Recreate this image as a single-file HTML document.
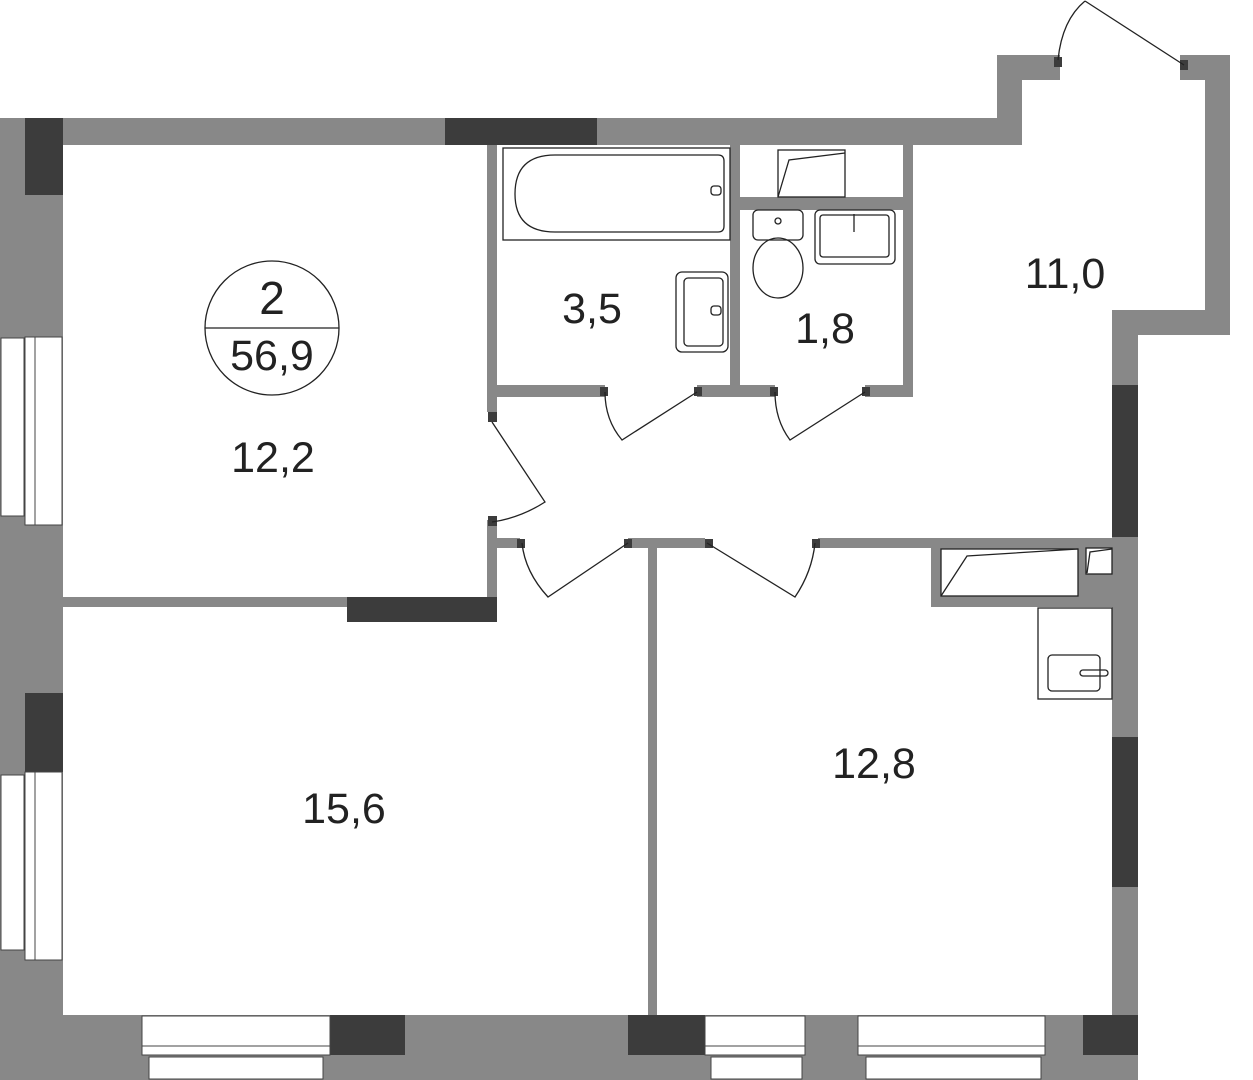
<!DOCTYPE html>
<html><head><style>
html,body{margin:0;padding:0;background:#fff;}
svg{display:block;font-family:"Liberation Sans",Arial,sans-serif;}
</style></head><body>
<svg width="1253" height="1080" viewBox="0 0 1253 1080" xmlns="http://www.w3.org/2000/svg">
<g fill="#888">
<rect x="0" y="118" width="63" height="962"/>
<rect x="63" y="118" width="959" height="27"/>
<rect x="997" y="55" width="25" height="90"/>
<rect x="997" y="55" width="63" height="25"/>
<rect x="1180" y="55" width="50" height="25"/>
<rect x="1205" y="55" width="25" height="280"/>
<rect x="1112" y="310" width="118" height="25"/>
<rect x="1112" y="310" width="26" height="770"/>
<rect x="0" y="1015" width="1138" height="65"/>
<rect x="487" y="145" width="10" height="267"/>
<rect x="487" y="520" width="10" height="100"/>
<rect x="487" y="385" width="118" height="12"/>
<rect x="697" y="385" width="78" height="12"/>
<rect x="865" y="385" width="48" height="12"/>
<rect x="730" y="145" width="10" height="245"/>
<rect x="903" y="145" width="10" height="245"/>
<rect x="740" y="197" width="165" height="13"/>
<rect x="63" y="597" width="434" height="10"/>
<rect x="487" y="538" width="33" height="10"/>
<rect x="628" y="538" width="77" height="10"/>
<rect x="818" y="538" width="294" height="10"/>
<rect x="648" y="548" width="9" height="467"/>
<rect x="931" y="538" width="181" height="69"/>
</g>
<g fill="#3c3c3c">
<rect x="25" y="118" width="38" height="77"/>
<rect x="445" y="118" width="152" height="27"/>
<rect x="347" y="597" width="150" height="25"/>
<rect x="25" y="693" width="38" height="79"/>
<rect x="1112" y="385" width="26" height="152"/>
<rect x="1112" y="737" width="26" height="150"/>
<rect x="330" y="1015" width="75" height="40"/>
<rect x="628" y="1015" width="77" height="40"/>
<rect x="1083" y="1015" width="55" height="40"/>
<rect x="1054" y="57" width="8" height="10"/>
<rect x="1180" y="60" width="8" height="10"/>
<rect x="488" y="412" width="9" height="10"/>
<rect x="488" y="516" width="9" height="10"/>
<rect x="600" y="387" width="8" height="9"/>
<rect x="694" y="387" width="8" height="9"/>
<rect x="770" y="387" width="8" height="9"/>
<rect x="862" y="387" width="8" height="9"/>
<rect x="517" y="539" width="8" height="9"/>
<rect x="624" y="539" width="8" height="9"/>
<rect x="705" y="539" width="8" height="9"/>
<rect x="812" y="539" width="8" height="9"/>
</g>
<g fill="#fff" stroke="#444" stroke-width="1">
<rect x="1" y="338" width="23" height="178"/>
<rect x="25" y="337" width="10" height="188"/>
<rect x="35" y="337" width="27" height="188"/>
<rect x="1" y="775" width="23" height="175"/>
<rect x="25" y="772" width="10" height="188"/>
<rect x="35" y="772" width="27" height="188"/>
<rect x="142" y="1016" width="188" height="30"/>
<rect x="142" y="1046" width="188" height="9"/>
<rect x="149" y="1057" width="174" height="22"/>
<rect x="705" y="1016" width="100" height="30"/>
<rect x="705" y="1046" width="100" height="9"/>
<rect x="711" y="1057" width="91" height="22"/>
<rect x="858" y="1016" width="187" height="30"/>
<rect x="858" y="1046" width="187" height="9"/>
<rect x="866" y="1057" width="175" height="22"/>
</g>
<g fill="none" stroke="#222" stroke-width="1.3">
<path d="M1184 65 L1085 1 M1058 60 Q1062 20 1085 1"/>
<path d="M492 422 L545 502 Q520 518 492 522"/>
<path d="M697 392 L622 440 Q605 420 605 392"/>
<path d="M865 392 L790 440 Q775 420 775 392"/>
<path d="M628 543 L548 597 Q525 572 522 543"/>
<path d="M707 543 L795 597 Q812 572 815 543"/>
<rect x="503" y="148" width="227" height="92"/>
<path d="M555 155 H718 Q724 155 724 161 V226 Q724 232 718 232 H555 Q515 232 515 194 Q515 155 555 155 Z"/>
<rect x="711" y="186" width="10" height="9" rx="3"/>
<rect x="676" y="272" width="52" height="80" rx="6"/>
<rect x="684" y="278" width="39" height="68" rx="4"/>
<rect x="711" y="306" width="10" height="9" rx="3"/>
<rect x="778" y="150" width="67" height="47"/>
<path d="M778 197 L789 160 L845 153"/>
<rect x="753" y="210" width="50" height="30" rx="5"/>
<ellipse cx="778" cy="268" rx="25" ry="30"/>
<circle cx="778" cy="221" r="3"/>
<rect x="815" y="210" width="80" height="54" rx="5"/>
<rect x="820" y="215" width="69" height="42" rx="3"/>
<path d="M854 214 L854 232"/>
<rect x="941" y="549" width="137" height="47" fill="#fff"/>
<path d="M941 596 L967 556 L1078 549"/>
<rect x="1086" y="548" width="26" height="26" fill="#fff"/>
<path d="M1087 573 L1090 552 L1112 549"/>
<rect x="1038" y="608" width="74" height="91" fill="#fff"/>
<rect x="1048" y="655" width="52" height="36" rx="4"/>
<rect x="1080" y="670" width="28" height="6" rx="3"/>
<circle cx="272" cy="328" r="67"/>
<path d="M205 328 H339"/>
</g>
<g fill="#222" font-size="43" text-anchor="middle">
<text x="272" y="314" font-size="46">2</text>
<text x="272" y="370">56,9</text>
<text x="273" y="472">12,2</text>
<text x="592" y="323">3,5</text>
<text x="825" y="343">1,8</text>
<text x="1065" y="288">11,0</text>
<text x="344" y="823">15,6</text>
<text x="874" y="778">12,8</text>
</g>
</svg>
</body></html>
